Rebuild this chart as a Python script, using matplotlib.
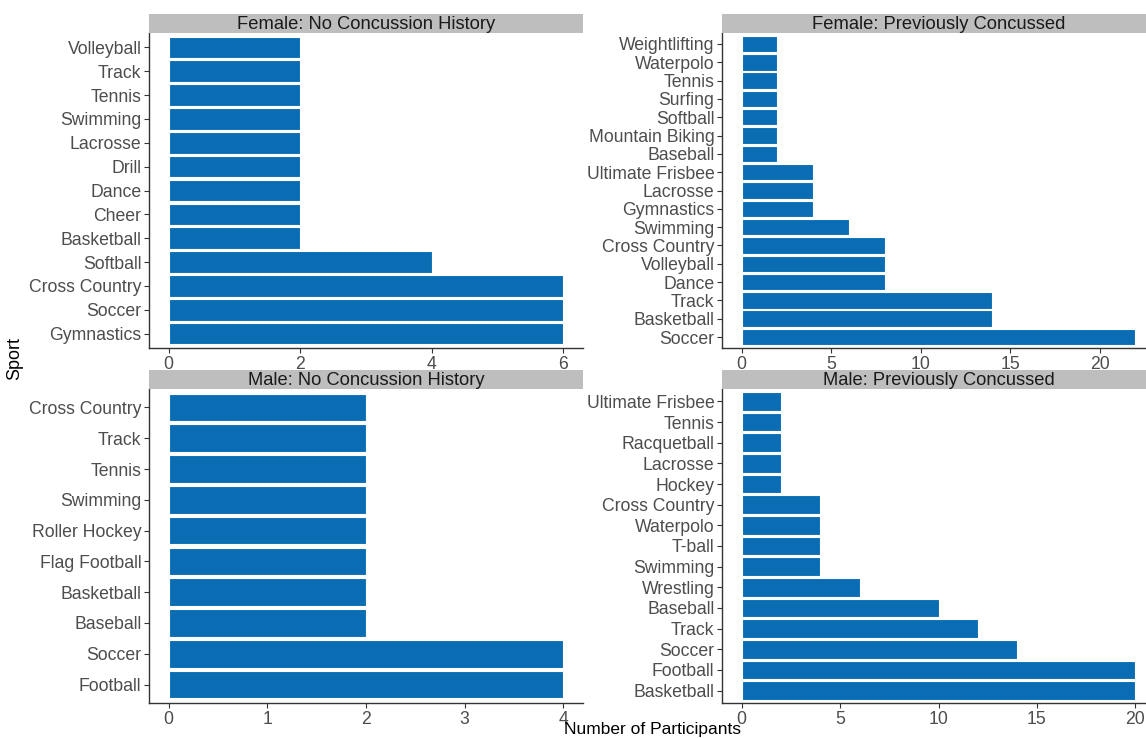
import matplotlib
matplotlib.use("Agg")
import matplotlib.pyplot as plt

plt.rcParams['font.family'] = ['Liberation Sans', 'DejaVu Sans']

# Sports and participant counts per panel (listed bottom to top)
female_none_sports = ["Gymnastics", "Soccer", "Cross Country", "Softball", "Basketball",
                      "Cheer", "Dance", "Drill", "Lacrosse", "Swimming", "Tennis",
                      "Track", "Volleyball"]
female_none_counts = [6, 6, 6, 4, 2, 2, 2, 2, 2, 2, 2, 2, 2]

female_prev_sports = ["Soccer", "Basketball", "Track", "Dance", "Volleyball", "Cross Country",
                      "Swimming", "Gymnastics", "Lacrosse", "Ultimate Frisbee", "Baseball",
                      "Mountain Biking", "Softball", "Surfing", "Tennis", "Waterpolo",
                      "Weightlifting"]
female_prev_counts = [22, 14, 14, 8, 8, 8, 6, 4, 4, 4, 2, 2, 2, 2, 2, 2, 2]

male_none_sports = ["Football", "Soccer", "Baseball", "Basketball", "Flag Football",
                    "Roller Hockey", "Swimming", "Tennis", "Track", "Cross Country"]
male_none_counts = [4, 4, 2, 2, 2, 2, 2, 2, 2, 2]

male_prev_sports = ["Basketball", "Football", "Soccer", "Track", "Baseball", "Wrestling",
                    "Swimming", "T-ball", "Waterpolo", "Cross Country", "Hockey",
                    "Lacrosse", "Racquetball", "Tennis", "Ultimate Frisbee"]
male_prev_counts = [20, 20, 14, 12, 10, 6, 4, 4, 4, 4, 2, 2, 2, 2, 2]

panel_titles = ["Female: No Concussion History", "Female: Previously Concussed",
                "Male: No Concussion History", "Male: Previously Concussed"]
x_ticks = [[0, 2, 4, 6], [0, 5, 10, 15, 20], [0, 1, 2, 3, 4], [0, 5, 10, 15, 20]]

BAR = "#0A6DB3"
STRIP = "#BEBEBE"
TXT = "#4D4D4D"

W, H = 1146, 738
fig = plt.figure(figsize=(W / 100, H / 100), dpi=100)

def fx(px):
    return px / W

def fy(py):
    return 1 - py / H

# panel geometry in pixels
cols = [(149, 583), (722, 1155)]
rows = [(33, 348, 14), (389, 703, 370)]

panels = [
    (female_none_sports, female_none_counts),
    (female_prev_sports, female_prev_counts),
    (male_none_sports, male_none_counts),
    (male_prev_sports, male_prev_counts),
]

for i, (sports, counts) in enumerate(panels):
    r, c = divmod(i, 2)
    left, right = cols[c]
    top, bottom, stop = rows[r]
    ax = fig.add_axes([fx(left), fy(bottom), fx(right - left), (bottom - top) / H])
    n = len(sports)
    ypos = list(range(1, n + 1))
    ax.barh(ypos, counts, height=0.9, color=BAR, edgecolor="white", linewidth=0.8)
    vmax = max(counts)
    ax.set_xlim(-0.05 * vmax, vmax * 1.05)
    ax.set_ylim(0.4, n + 0.6)
    ax.set_yticks(ypos)
    ax.set_yticklabels(sports)
    ax.set_xticks(x_ticks[i])
    for s in ["top", "right"]:
        ax.spines[s].set_visible(False)
    for s in ["left", "bottom"]:
        ax.spines[s].set_color("#333333")
        ax.spines[s].set_linewidth(1.0)
    ax.tick_params(axis="both", colors="#333333", length=3.5, width=0.8,
                   labelsize=12.7, labelcolor=TXT, pad=2)
    # facet strip header
    sax = fig.add_axes([fx(left), fy(top), fx(right - left), (top - stop) / H])
    sax.set_facecolor(STRIP)
    sax.set_xticks([])
    sax.set_yticks([])
    for s in sax.spines.values():
        s.set_visible(False)
    sax.text(0.5, 0.45, panel_titles[i], ha="center", va="center",
             fontsize=13.2, color="#1A1A1A", transform=sax.transAxes)

fig.text(fx(15), fy(358), "Sport", rotation=90, ha="center", va="center",
         fontsize=13, color="black")
fig.text(fx(652), fy(737), "Number of Participants", ha="center", va="bottom",
         fontsize=12.5, color="black")

fig.savefig("out.png", dpi=100, facecolor="white")
